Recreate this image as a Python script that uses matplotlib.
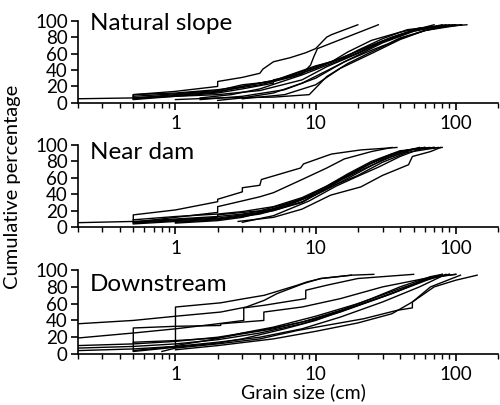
import matplotlib
matplotlib.use('Agg')
import matplotlib.pyplot as plt
from matplotlib.ticker import LogLocator, NullFormatter, FixedLocator

plt.rcParams['font.family'] = ['Lato', 'DejaVu Sans']

# grain size (cm) and cumulative percentage, one list per sample curve
natural_x = [
    [0.5, 0.5, 1, 2, 2, 3, 4, 4.2, 5, 6.6, 8.5, 10, 12, 13, 15, 20],
    [0.5, 1, 2, 3, 5, 5, 8, 9.2, 9.7, 10.3, 28],
    [0.2, 0.5, 1, 2, 4, 8, 12, 20, 30, 50, 80],
    [0.5, 1, 2, 3, 5, 10, 13, 17, 25, 40, 60, 70],
    [0.5, 1, 2, 4, 7, 12, 16, 20, 30, 45, 90],
    [0.5, 0.5, 1, 2, 3, 6, 10, 17, 25, 40, 60, 110],
    [1, 2, 5, 9, 12, 17, 25, 40, 60, 100],
    [2, 3, 5, 8, 13, 20, 30, 50, 70, 120],
    [1.5, 3, 6, 10, 16, 25, 33, 40, 70, 95],
    [1.5, 2.5, 4, 8, 16, 20, 30, 50, 85],
    [0.5, 1, 2, 3, 5, 10, 15, 22, 35, 55, 100],
    [3, 6, 10, 15, 25, 40, 60, 110],
]
natural_y = [
    [5, 10, 14, 20, 26, 31, 36, 41, 50, 55, 61, 66, 80, 83, 87, 95],
    [4, 8, 12, 17, 24, 28, 35, 46, 56, 66, 95],
    [5, 6, 8, 10, 15, 28, 44, 60, 74, 88, 95],
    [5, 9, 13, 20, 27, 45, 50, 62, 76, 86, 92, 95],
    [6, 10, 14, 22, 32, 48, 55, 64, 78, 89, 95],
    [7, 10, 12, 16, 20, 30, 42, 58, 70, 83, 91, 95],
    [4, 6, 7, 10, 32, 48, 62, 78, 88, 95],
    [3, 6, 12, 24, 42, 58, 73, 87, 92, 95],
    [4, 8, 16, 30, 50, 64, 72, 79, 91, 95],
    [6, 10, 17, 34, 54, 61, 75, 88, 95],
    [8, 11, 15, 22, 26, 44, 54, 66, 80, 91, 95],
    [5, 10, 22, 42, 60, 77, 88, 95],
]

neardam_x = [
    [0.5, 0.5, 1, 2, 2, 3, 3, 4, 4.1, 7.8, 8.2, 12, 13, 21, 38],
    [0.5, 1, 2, 2, 3, 4, 5, 8, 12, 16, 25, 35],
    [0.2, 0.5, 1, 2, 3, 5, 8, 12, 20, 30, 45, 60],
    [2.8, 5, 8, 12.8, 21, 30, 46, 49, 66, 78],
    [0.5, 1, 2, 4, 7, 10, 15, 22, 35, 55],
    [0.5, 1, 2, 3, 5, 8, 12, 17, 25, 40, 70],
    [0.5, 1, 2, 3, 5, 8, 12, 20, 30, 50, 65],
    [1, 2, 4, 8, 11, 16, 25, 40, 60],
    [1, 2, 3, 6, 10, 15, 22, 35, 50, 70],
    [0.5, 1, 2, 2, 4, 6, 10, 14, 20, 30, 45, 75],
    [3, 5, 9, 14, 20, 28, 40, 55, 80],
]
neardam_y = [
    [7, 15, 21, 31, 34, 43, 48, 51, 58, 72, 77, 87, 89, 94, 97],
    [6, 12, 18, 25, 32, 37, 42, 58, 72, 83, 92, 97],
    [5.5, 7, 10, 13, 16, 22, 34, 50, 70, 84, 94, 97],
    [7, 12, 22, 39, 49, 63, 76, 86, 92, 97],
    [5, 8, 11, 18, 30, 42, 58, 74, 89, 97],
    [9, 13, 16, 19, 25, 36, 50, 65, 80, 93, 97],
    [4, 7, 10, 14, 20, 31, 46, 66, 82, 95, 97],
    [6, 9, 16, 30, 44, 60, 78, 92, 97],
    [5, 8, 12, 25, 40, 57, 71, 86, 95, 97],
    [6, 9, 12, 15, 20, 28, 40, 52, 63, 79, 91, 97],
    [6, 14, 32, 50, 62, 73, 86, 95, 97],
]

downstream_x = [
    [0.2, 0.5, 1, 2.1, 3.2, 4.3, 5.3, 8.2, 10.8, 18],
    [0.5, 1, 1, 2.1, 3.1, 4.3, 7.4, 8.7, 11, 18, 26],
    [0.2, 0.5, 1, 2, 3.07, 3.07, 4.27, 6, 8.5, 8.5, 12, 20, 50],
    [0.5, 0.5, 1, 2.1, 2.1, 3, 4.27, 4.27, 8, 15, 30, 60, 100],
    [0.2, 0.5, 1, 2, 4, 8, 15, 25, 40, 60, 90],
    [0.2, 0.5, 1, 2, 4, 8, 15, 30, 50, 80],
    [0.2, 0.5, 1, 2, 4, 8, 15, 30, 55, 85],
    [0.8, 1, 2, 4, 7.4, 22, 38, 49, 49, 66, 108],
    [1, 2, 5, 10, 20, 35, 49, 70, 100, 142],
    [0.5, 1, 2, 3, 6, 10, 20, 35, 60, 90],
    [1, 1.8, 3, 5, 10, 20, 40, 70, 100],
    [0.5, 1, 2, 3, 5, 10, 20, 40, 65, 80],
]
downstream_y = [
    [36, 40, 45, 50, 56, 64, 72, 84, 90, 94],
    [4, 9, 56, 61, 66, 70, 82, 86, 90, 94, 95],
    [19, 25, 30, 36, 40, 55, 58, 62, 66, 76, 82, 90, 95],
    [5, 31, 33, 34, 36, 38, 40, 50, 56, 66, 80, 90, 95],
    [10, 12, 15, 20, 28, 38, 52, 66, 80, 90, 95],
    [7, 9, 12, 17, 25, 36, 50, 68, 82, 95],
    [4, 6, 9, 14, 20, 30, 44, 62, 80, 95],
    [3, 7, 12, 18, 28, 42, 52, 55, 62, 80, 94],
    [5, 10, 18, 27, 37, 48, 62, 80, 88, 94],
    [3, 8, 13, 18, 30, 40, 58, 72, 88, 95],
    [10, 17, 25, 32, 45, 60, 78, 92, 95],
    [14, 16, 19, 24, 30, 42, 58, 76, 92, 95],
]

panels = [
    ('Natural slope', natural_x, natural_y, 0.966),
    ('Near dam', neardam_x, neardam_y, 0.909),
    ('Downstream', downstream_x, downstream_y, 0.833),
]

fig = plt.figure(figsize=(5, 4.05), dpi=100)
tops = [0.949, 0.642, 0.333]
heights = [0.203, 0.203, 0.207]

for (name, xs, ys, ty), top, h in zip(panels, tops, heights):
    ax = fig.add_axes([0.155, top - h, 0.841, h])
    for cx, cy in zip(xs, ys):
        ax.plot(cx, cy, color='black', lw=1.0)
    ax.set_xscale('log')
    ax.set_xlim(0.2, 200)
    ax.set_ylim(0, 100)
    ax.xaxis.set_major_locator(FixedLocator([1, 10, 100]))
    ax.xaxis.set_minor_locator(LogLocator(base=10, subs=range(2, 10)))
    ax.xaxis.set_minor_formatter(NullFormatter())
    ax.set_xticklabels(['1', '10', '100'])
    ax.set_yticks([0, 20, 40, 60, 80, 100])
    for s in ['top', 'right']:
        ax.spines[s].set_visible(False)
    for s in ['left', 'bottom']:
        ax.spines[s].set_linewidth(1.2)
    ax.tick_params(axis='both', which='major', direction='out', length=5,
                   width=1.2, labelsize=13.5, pad=2)
    ax.tick_params(axis='x', which='minor', direction='out', length=3.5, width=1.0)
    ax.tick_params(axis='x', which='major', pad=4)
    ax.text(0.03, ty, name, transform=ax.transAxes, fontsize=17.5, va='center',
            ha='left')

fig.text(0.026, 0.538, 'Cumulative percentage', rotation=90, fontsize=14.5,
         ha='center', va='center')
fig.text(0.606, 0.032, 'Grain size (cm)', fontsize=14, ha='center', va='center')

fig.savefig('out.png', dpi=100)
